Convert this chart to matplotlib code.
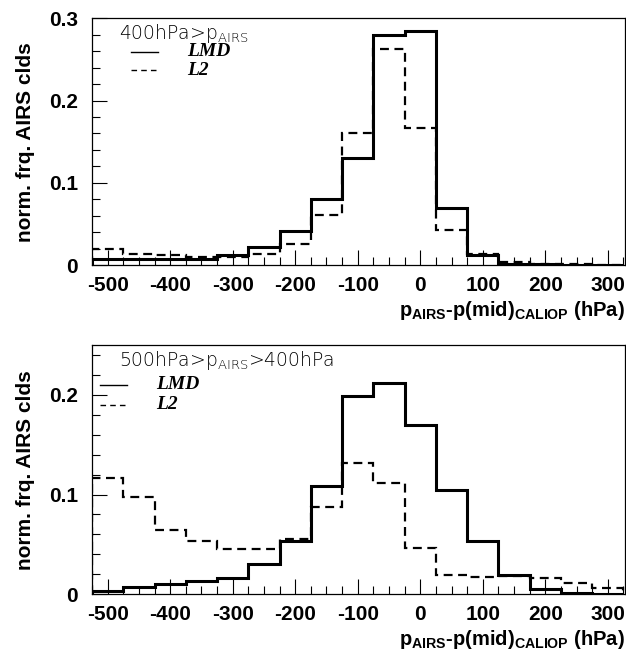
import numpy as np
import matplotlib
matplotlib.use('Agg')
import matplotlib.pyplot as plt
from matplotlib.ticker import MultipleLocator

# bin centres (hPa), 50 hPa wide
centers = np.arange(-500, 301, 50)

# 400hPa > p_AIRS
top_lmd = [0.007, 0.007, 0.007, 0.008, 0.012, 0.022, 0.041, 0.081, 0.130,
           0.279, 0.285, 0.070, 0.012, 0.002, 0.001, 0.0005, 0.0]
top_l2 = [0.020, 0.014, 0.012, 0.010, 0.010, 0.014, 0.026, 0.061, 0.161,
          0.262, 0.167, 0.043, 0.013, 0.004, 0.002, 0.001, 0.0]

# 500hPa > p_AIRS > 400hPa
bot_lmd = [0.003, 0.007, 0.010, 0.013, 0.016, 0.030, 0.053, 0.109, 0.199,
           0.212, 0.170, 0.105, 0.053, 0.019, 0.005, 0.001, 0.0]
bot_l2 = [0.117, 0.098, 0.064, 0.053, 0.045, 0.045, 0.055, 0.087, 0.132,
          0.112, 0.046, 0.019, 0.017, 0.018, 0.016, 0.011, 0.006]

titles = [r'400hPa>p$_{\mathrm{AIRS}}$', r'500hPa>p$_{\mathrm{AIRS}}$>400hPa']
xlabel = r'$\mathbf{p_{AIRS}}$-p(mid)$_{\mathbf{CALIOP}}$ (hPa)'
ylabel = 'norm. frq. AIRS clds'

plt.rcParams['font.family'] = 'Liberation Sans'
plt.rcParams['axes.unicode_minus'] = False
plt.rcParams['mathtext.fontset'] = 'custom'
plt.rcParams['mathtext.rm'] = 'DejaVu Sans:light'
plt.rcParams['mathtext.bf'] = 'Liberation Sans:bold'

edges = np.append(centers - 25, centers[-1] + 25)

fig = plt.figure(figsize=(6.26, 6.5), dpi=100)
ax1 = fig.add_axes([0.147, 0.592, 0.851, 0.380])
ax2 = fig.add_axes([0.147, 0.086, 0.851, 0.383])

panels = [
    (ax1, top_lmd, top_l2, 0.3, titles[0], (0.05, 0.94), (0.073, 0.865), (0.073, 0.79)),
    (ax2, bot_lmd, bot_l2, 0.25, titles[1], (0.05, 0.94), (0.015, 0.84), (0.015, 0.76)),
]

for ax, lmd, l2, ymax, title, tpos, lpos1, lpos2 in panels:
    ax.stairs(l2, edges, color='black', lw=1.6, linestyle=(0, (4, 2.5)))
    ax.stairs(lmd, edges, color='black', lw=2.2)
    ax.set_xlim(-525, 327)
    ax.set_ylim(0, ymax)
    ax.xaxis.set_major_locator(MultipleLocator(100))
    ax.xaxis.set_minor_locator(MultipleLocator(25))
    ax.yaxis.set_major_locator(MultipleLocator(0.1))
    ax.yaxis.set_minor_locator(MultipleLocator(0.02))
    ax.yaxis.set_major_formatter(plt.FuncFormatter(lambda v, p: '0' if v == 0 else f'{v:.1f}'))
    ax.tick_params(which='both', direction='in', top=False, right=False,
                   labelsize=15, width=0.8)
    ax.tick_params(which='major', length=10.8)
    ax.tick_params(axis='x', which='major', pad=8)
    ax.tick_params(axis='y', which='major', pad=10)
    ax.tick_params(which='minor', length=5.8)
    for lab in ax.get_xticklabels() + ax.get_yticklabels():
        lab.set_fontweight('bold')
    for sp in ax.spines.values():
        sp.set_linewidth(0.9)
    ax.set_ylabel(ylabel, fontsize=15, fontweight='bold', labelpad=10)
    ax.text(1.0, -0.135, xlabel, transform=ax.transAxes, ha='right', va='top',
            fontsize=14.5, fontweight='bold')
    ax.text(tpos[0], tpos[1], title, transform=ax.transAxes, ha='left', va='center',
            fontsize=13.5, family='DejaVu Sans', fontweight='light', color='black')
    # legend entries
    x0, y0 = lpos1
    ax.plot([x0, x0 + 0.05], [y0, y0], transform=ax.transAxes, color='black', lw=1.0)
    ax.text(x0 + 0.105, y0, 'LMD', transform=ax.transAxes, ha='left', va='center',
            fontsize=14, family='Liberation Serif', fontweight='bold', style='italic')
    x0, y0 = lpos2
    ax.plot([x0, x0 + 0.05], [y0, y0], transform=ax.transAxes, color='black', lw=1.0,
            linestyle=(0, (4, 3)))
    ax.text(x0 + 0.105, y0, 'L2', transform=ax.transAxes, ha='left', va='center',
            fontsize=14, family='Liberation Serif', fontweight='bold', style='italic')

fig.savefig('out.png', dpi=100)
